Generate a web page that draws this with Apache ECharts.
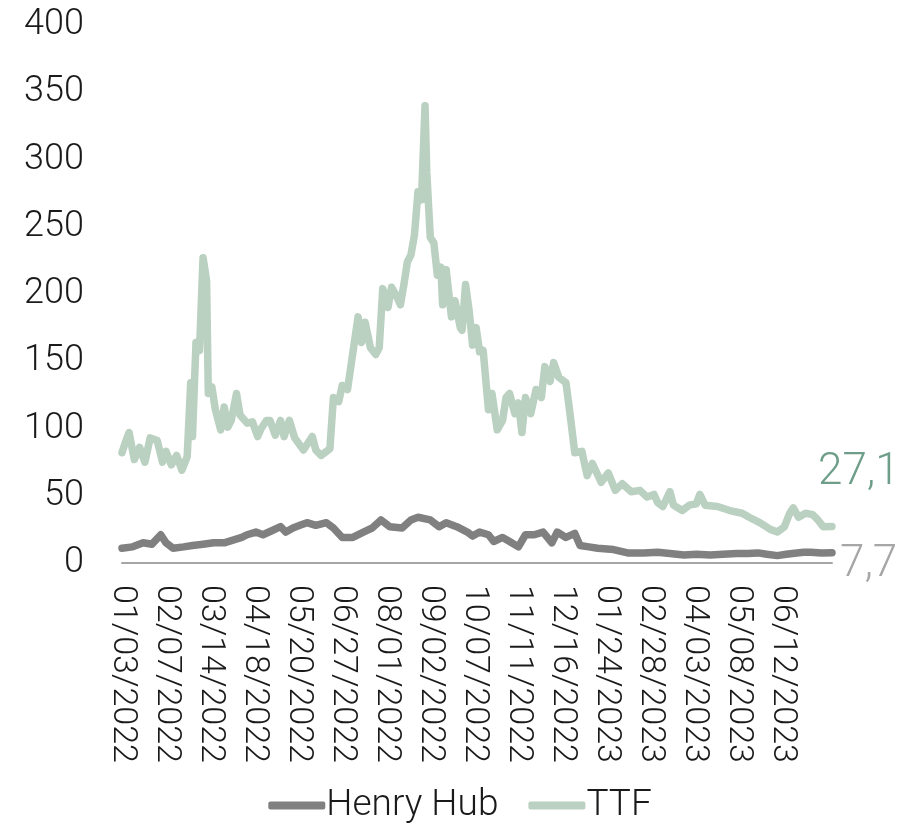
<!DOCTYPE html>
<html lang="en" style="height: 100%">
<head>
    <meta charset="UTF-8">
    <title>Henry Hub vs TTF</title>
    <script src="https://cdn.jsdelivr.net/npm/echarts@6/dist/echarts.min.js"></script>
</head>
<body style="height: 100%; margin: 0; background: #fff">
<div id="container" style="width: 920px; height: 824px"></div>
<script type="text/javascript">
    // x labels, one every 25 trading days
    var tickLabels = ['01/03/2022', '02/07/2022', '03/14/2022', '04/18/2022', '05/20/2022', '06/27/2022',
        '08/01/2022', '09/02/2022', '10/07/2022', '11/11/2022', '12/16/2022', '01/24/2023',
        '02/28/2023', '04/03/2023', '05/08/2023', '06/12/2023'];
    var lastDay = 403;

    // TTF (trading-day index, price)
    var ttfDay = [0, 2, 4, 7, 10, 13, 16, 20, 23, 25, 28, 31, 34, 37, 39, 40, 42, 44, 46, 48, 49, 51, 53, 56, 58,
        60, 62, 65, 67, 71, 74, 77, 79, 82, 84, 87, 90, 92, 95, 98, 103, 108, 110, 113, 118, 120, 123, 125, 128,
        130, 134, 136, 138, 141, 144, 146, 148, 151, 153, 156, 158, 160, 162, 164, 166, 168, 170, 172, 173, 175,
        177, 179, 181, 182, 184, 187, 189, 192, 193, 195, 197, 199, 201, 203, 205, 208, 210, 213, 216, 218, 220,
        223, 225, 227, 229, 232, 235, 238, 240, 243, 245, 248, 252, 254, 257, 261, 264, 267, 272, 276, 280, 284,
        289, 294, 298, 302, 304, 307, 311, 313, 318, 322, 326, 328, 331, 338, 345, 352, 356, 362, 368, 372, 376,
        379, 381, 384, 388, 392, 395, 398, 403];
    var ttfVal = [82, 90, 97, 77, 86, 75, 93, 91, 75, 83, 73, 80, 69, 79, 134, 94, 164, 158, 227, 210, 126, 131, 114, 99, 116,
        101, 106, 126, 110, 104, 105, 94, 100, 106, 106, 95, 106, 94, 106, 93, 84, 94, 84, 80, 85, 123, 120, 132, 129,
        147, 183, 164, 179, 160, 155, 160, 204, 190, 205, 198, 192, 207, 224, 229, 244, 276, 270, 340, 290, 242,
        238, 214, 220, 192, 218, 183, 195, 175, 173, 207, 188, 162, 175, 157, 158, 114, 126, 99, 106, 123, 126,
        111, 119, 97, 123, 111, 129, 123, 146, 135, 149, 138, 134, 114, 82, 83, 65, 74, 60, 67, 54, 59,
        53, 54, 49, 51, 45, 42, 53, 43, 39, 43, 44, 51, 43, 42, 39, 37, 34, 30, 25, 23, 27,
        37, 41, 34, 37, 36, 32, 27, 27.1];

    // Henry Hub (trading-day index, price)
    var hhDay = [0, 6, 12, 17, 22, 25, 29, 35, 40, 46, 52, 58, 63, 68, 71, 76, 80, 85, 90, 93, 97, 101, 105, 110,
        116, 120, 125, 131, 137, 142, 147, 152, 159, 164, 168, 175, 180, 184, 190, 196, 199, 203, 208, 211, 216,
        220, 225, 229, 234, 239, 244, 247, 252, 257, 260, 265, 270, 279, 287, 296, 304, 311, 319, 326, 334, 341,
        349, 355, 361, 366, 372, 377, 383, 387, 391, 397, 403];
    var hhVal = [11, 12, 15, 14, 21, 15, 11, 12, 13, 14, 15, 15, 17, 19, 21, 23, 21, 24, 27, 23, 26, 28, 30, 28,
        30, 26, 19, 19, 23, 26, 32, 27, 26, 32, 34, 32, 27, 30, 27, 23, 20, 23, 21, 16, 19,
        16, 12, 21, 21, 23, 15, 23, 19, 22, 13, 12, 11, 10, 7.5, 7.5, 8, 7, 6, 6.5, 6, 6.5,
        7, 7, 7.5, 6.5, 5.5, 6.5, 7.5, 8, 8, 7.5, 7.7];

    function pairs(days, vals) {
        var out = [];
        for (var i = 0; i < days.length; i++) out.push([days[i], vals[i]]);
        return out;
    }
    function comma(v) {
        return String(v).replace('.', ',');
    }

    var font = 'Roboto';
    var dom = document.getElementById('container');
    var myChart = echarts.init(dom);

    var option = {
        animation: false,
        grid: {left: 122, right: 88, top: 25, bottom: 261},
        legend: {
            top: 782,
            left: 'center',
            icon: 'roundRect',
            itemWidth: 57,
            itemHeight: 8,
            itemGap: 30,
            textStyle: {fontFamily: font, fontWeight: 300, fontSize: 37, color: '#1a1a1a', padding: [0, 0, 0, -4]},
            data: ['Henry Hub', 'TTF']
        },
        xAxis: {
            type: 'value',
            min: 0,
            max: lastDay,
            interval: 25,
            splitLine: {show: false},
            axisTick: {show: false},
            axisLine: {lineStyle: {color: '#a6a6a6', width: 2}},
            axisLabel: {
                rotate: -90,
                margin: 22,
                fontFamily: font,
                fontWeight: 300,
                fontSize: 34,
                color: '#1a1a1a',
                showMaxLabel: false,
                formatter: function (v) {
                    return tickLabels[v / 25] || '';
                }
            }
        },
        yAxis: {
            type: 'value',
            min: 0,
            max: 400,
            interval: 50,
            splitLine: {show: false},
            axisLine: {show: false},
            axisTick: {show: false},
            axisLabel: {margin: 38, fontFamily: font, fontWeight: 300, fontSize: 36, color: '#1a1a1a'}
        },
        series: [{
            name: 'Henry Hub',
            type: 'line',
            symbol: 'none',
            data: pairs(hhDay, hhVal),
            color: '#808080',
            lineStyle: {width: 7.5, color: '#808080', cap: 'round', join: 'round'},
            endLabel: {
                show: true,
                formatter: function (p) { return comma(p.value[1]); },
                fontFamily: font, fontWeight: 300, fontSize: 44, color: '#a6a6a6',
                distance: 0, offset: [8, 12]
            },
            z: 3
        }, {
            name: 'TTF',
            type: 'line',
            symbol: 'none',
            data: pairs(ttfDay, ttfVal),
            color: '#bad0c0',
            lineStyle: {width: 7.5, color: '#bad0c0', cap: 'round', join: 'round'},
            endLabel: {
                show: true,
                formatter: function (p) { return comma(p.value[1]); },
                fontFamily: font, fontWeight: 300, fontSize: 44, color: '#6e9e89',
                distance: 0, offset: [-14, -54]
            },
            z: 2
        }]
    };

    myChart.setOption(option);
</script>
</body>
</html>
